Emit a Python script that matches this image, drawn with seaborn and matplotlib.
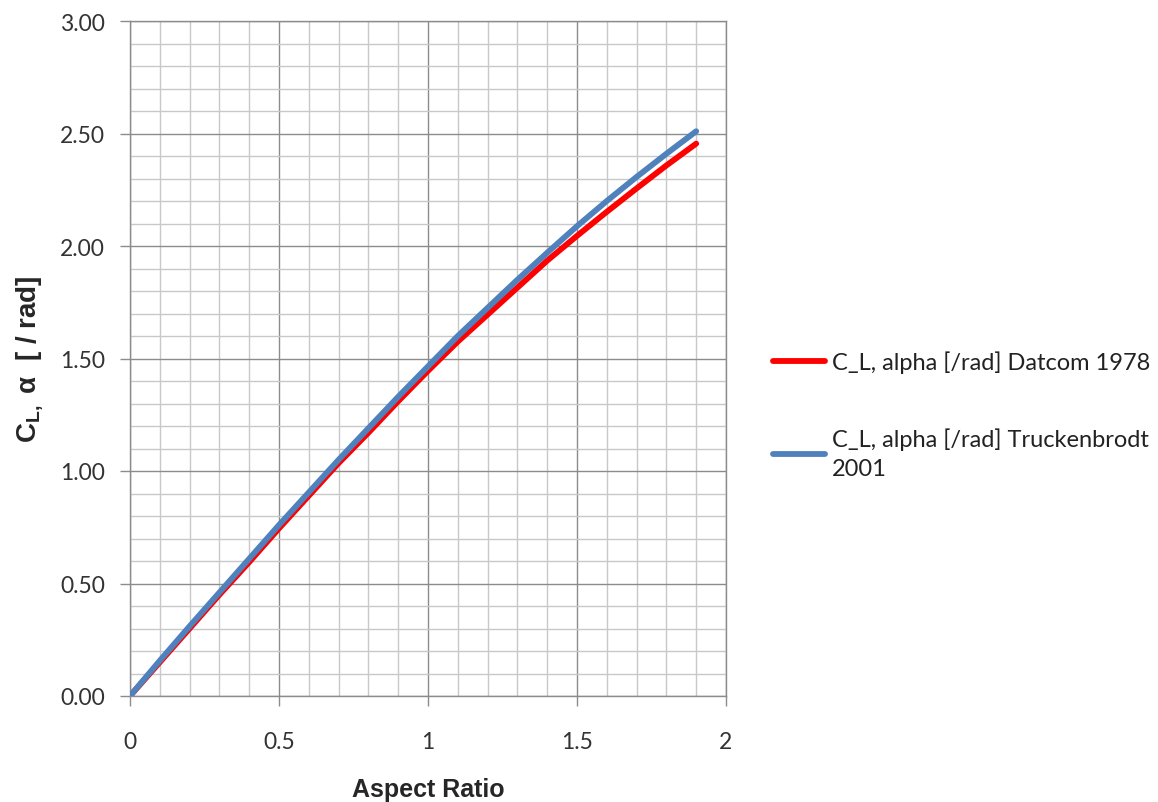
import numpy as np
import pandas as pd
import matplotlib
matplotlib.use("Agg")
import matplotlib.pyplot as plt
import seaborn as sns
from matplotlib.ticker import MultipleLocator, FuncFormatter
from matplotlib.lines import Line2D

# ---- data ----
aspect_ratio = [0.0, 0.1, 0.2, 0.3, 0.4, 0.5, 0.6, 0.7, 0.8, 0.9, 1.0,
                1.1, 1.2, 1.3, 1.4, 1.5, 1.6, 1.7, 1.8, 1.9]
cla_datcom = [0.0, 0.15, 0.30, 0.45, 0.595, 0.745, 0.89, 1.035, 1.17, 1.31, 1.445,
              1.575, 1.695, 1.815, 1.935, 2.045, 2.152, 2.256, 2.358, 2.455]
cla_truckenbrodt = [0.0, 0.157, 0.31, 0.46, 0.61, 0.76, 0.905, 1.05, 1.19, 1.33, 1.465,
                    1.60, 1.725, 1.85, 1.97, 2.088, 2.200, 2.307, 2.41, 2.51]
series_names = ["C_L, alpha [/rad] Datcom 1978",
                "C_L, alpha [/rad] Truckenbrodt\n2001"]
series_colors = ["#FF0000", "#4F81BD"]
x_label = "Aspect Ratio"
y_label = r"C$_\mathbf{L,}$ α  [ / rad]"

df = pd.DataFrame({
    "x": aspect_ratio * 2,
    "y": cla_datcom + cla_truckenbrodt,
    "series": [series_names[0]] * len(aspect_ratio) + [series_names[1]] * len(aspect_ratio),
})

sns.set_theme(style="white")
plt.rcParams["font.family"] = ["Lato", "DejaVu Sans"]
plt.rcParams["mathtext.fontset"] = "custom"
plt.rcParams["mathtext.rm"] = "Liberation Sans"
plt.rcParams["mathtext.bf"] = "Liberation Sans:bold"

fig = plt.figure(figsize=(11.58, 8.03), dpi=100)
ax = fig.add_axes([130 / 1158, 1 - 697 / 803, 596 / 1158, 675 / 803])

sns.lineplot(data=df, x="x", y="y", hue="series", palette=series_colors,
             hue_order=series_names, linewidth=4.2, ax=ax, legend=False,
             sort=False)
for ln in ax.lines:
    ln.set_solid_capstyle("round")
    ln.set_solid_joinstyle("round")
ax.lines[1].set_zorder(3)

ax.set_xlim(0, 2)
ax.set_ylim(0, 3)
ax.xaxis.set_major_locator(MultipleLocator(0.5))
ax.xaxis.set_minor_locator(MultipleLocator(0.1))
ax.yaxis.set_major_locator(MultipleLocator(0.5))
ax.yaxis.set_minor_locator(MultipleLocator(0.1))
ax.xaxis.set_major_formatter(FuncFormatter(lambda v, p: f"{v:g}"))
ax.yaxis.set_major_formatter(FuncFormatter(lambda v, p: f"{v:.2f}"))

ax.grid(True, which="major", color="#8c8c8c", linewidth=1.0)
ax.grid(True, which="minor", color="#c8c8c8", linewidth=1.0)
ax.set_axisbelow(True)

for s in ["left", "bottom", "top", "right"]:
    ax.spines[s].set_color("#8c8c8c")
    ax.spines[s].set_linewidth(1.0)

ax.tick_params(axis="both", which="major", direction="out", length=7,
               width=1, color="#8c8c8c", labelsize=16.5, labelcolor="#333333")
ax.tick_params(axis="y", which="major", pad=11, left=True)
ax.tick_params(axis="x", which="major", pad=18, bottom=True)
ax.tick_params(which="minor", length=0)

ax.set_xlabel(x_label, fontsize=18, fontweight="bold",
              family="Liberation Sans", labelpad=18)
ax.set_ylabel(y_label, fontsize=20, fontweight="bold",
              family="Liberation Sans", labelpad=10)

handles = [Line2D([], [], color=c, linewidth=4.2, solid_capstyle="round")
           for c in series_colors]
leg = fig.legend(handles, series_names, loc="upper left",
                 bbox_to_anchor=(761 / 1158, 1 - 340 / 803), frameon=False,
                 fontsize=17, labelcolor="#222222", handlelength=2.2,
                 handletextpad=0.3, labelspacing=2.3, borderpad=0)
for t in leg.get_texts():
    t.set_linespacing(1.45)

fig.savefig("out.png", dpi=100)
